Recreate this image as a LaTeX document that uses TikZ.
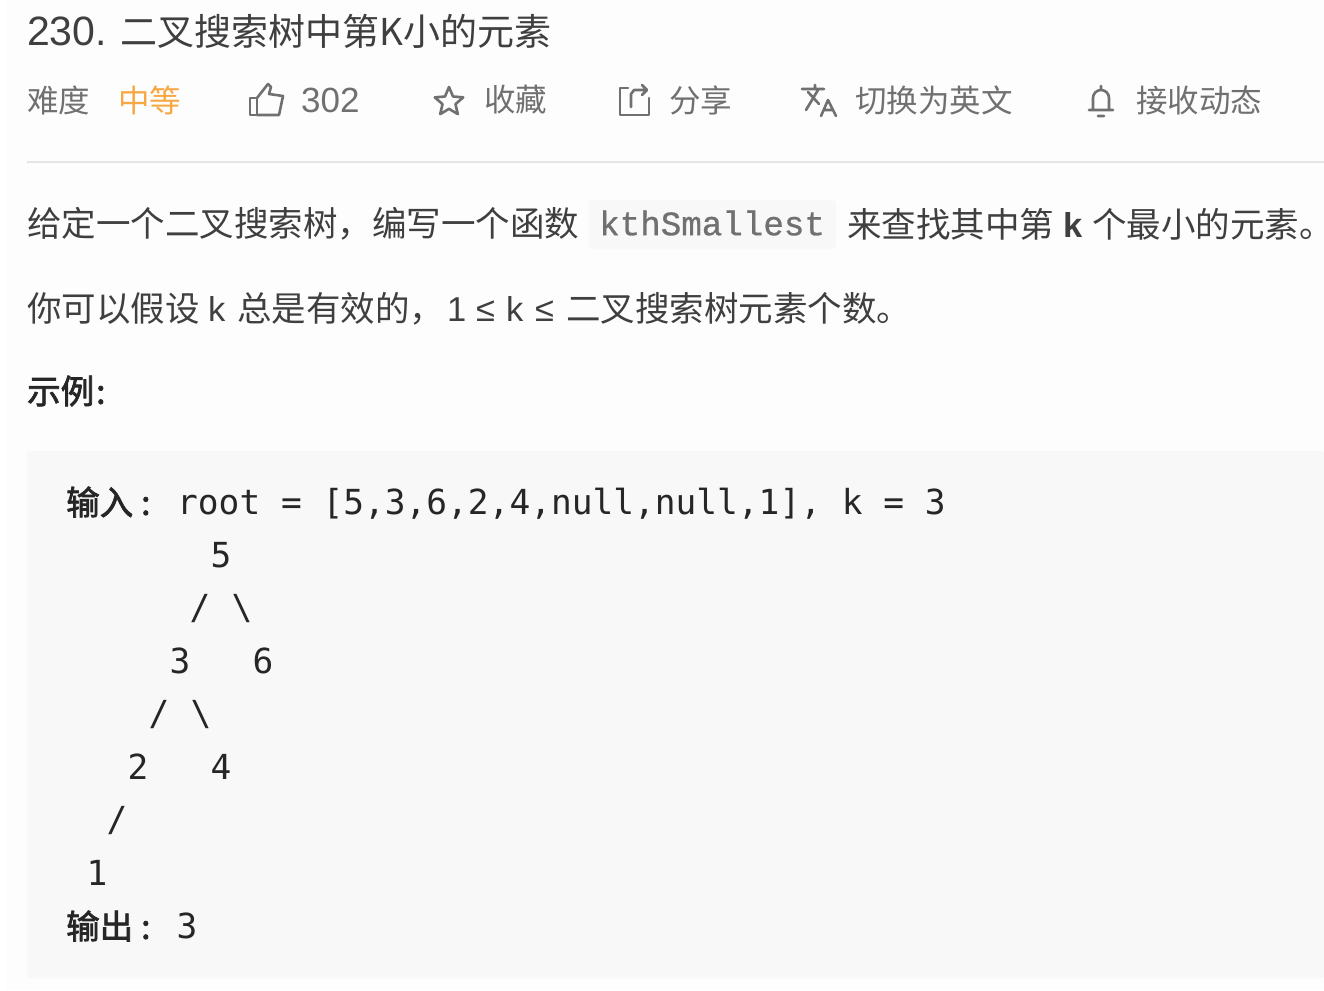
\documentclass[tikz,border=0pt]{standalone}
\usepackage{fontspec}
\usetikzlibrary{shapes.geometric}
\setmainfont{Noto Sans CJK SC}
\setmonofont{DejaVu Sans Mono}
\newfontfamily\lat{Liberation Sans}
\newfontfamily\slab[FakeBold=0.8]{Liberation Mono}
\newfontfamily\med[FakeBold=2.2]{Noto Sans CJK SC}
\newcommand{\seg}[2]{\makebox[#1pt][l]{#2}}
\definecolor{pagebg}{HTML}{FDFDFD}
\definecolor{codebg}{HTML}{F8F8F8}
\definecolor{pillbg}{HTML}{F8F8F8}
\definecolor{ink}{HTML}{3F3F3F}
\definecolor{soft}{HTML}{707070}
\definecolor{accent}{HTML}{F7A845}
\tikzset{x=1pt,y=-1pt,
 txt/.style={anchor=west,inner sep=0pt,text=ink,font=\fontsize{34.5}{34.5}\selectfont},
 title/.style={txt,font=\fontsize{37}{37}\selectfont},
 bar/.style={txt,text=soft,font=\fontsize{31.5}{32}\selectfont},
 code/.style={anchor=center,inner sep=0pt,text=black!85,font=\ttfamily\fontsize{34.5}{34.5}\selectfont},
 strong/.style={anchor=west,inner sep=0pt,text=black!85,font=\med\fontsize{33.5}{33.5}\selectfont},
 icon/.style={draw=soft,line width=2.6pt,line join=round,line cap=round}}
\begin{document}
\begin{tikzpicture}
\useasboundingbox (0,0) rectangle (1324,990);
\fill[white] (0,0) rectangle (1324,990);
\fill[pagebg] (6,0) rectangle (1324,990);
\node[title] (t) at (27,31) {\seg{93}{\lat\fontsize{41}{41}\selectfont 230.}二叉搜索树中第K小的元素};
\node[bar] (a) at (27,100) {难度};
\node[bar,text=accent] (b) at (118,100) {中等};
\draw[icon] (250,98)--(250,115)--(257,115)--(257,98)--cycle;
\draw[icon] (257,98) -- (268,84) -- (271,87) -- (269,94) -- (283,96) -- (279,115) -- (257,115);
\node[bar,font=\lat\fontsize{35}{35}\selectfont] (c) at (301,100) {302};
\node[star,star points=5,star point ratio=2.2,icon,minimum size=30pt,inner sep=0pt] (s) at (449,102) {};
\node[bar] (d) at (484,100) {收藏};
\draw[icon] (628,88) -- (620,88) -- (620,115) -- (649,115) -- (649,98);
\draw[icon] (631,107) -- (631,94) -- (634,90) -- (645,90) (642,85) -- (647,90) -- (642,95);
\node[bar] (e) at (669,100) {分享};
\draw[icon] (802,89) -- (824,89) (815,85) -- (815,89) (808,92) -- (819,104) (818,90) -- (806,110);
\draw[icon] (821,116) -- (828,100) -- (836,116) (824,110) -- (833,110);
\node[bar] (h) at (855,100) {切换为英文};
\draw[icon] (1089,110) -- (1113,110) (1093,110) -- (1093,98) arc[start angle=180,end angle=360,radius=8] -- (1109,110) (1098,116) -- (1104,116) (1101,86) -- (1101,89);
\node[bar] (i) at (1136,100) {接收动态};
\draw[draw=black!10,line width=1.4pt] (27,162) -- (1324,162);
\fill[pillbg,rounded corners=4pt] (589,200) rectangle (836,249);
\node[txt] (p1) at (27,224) {给定一个二叉搜索树，编写一个函数};
\node[anchor=west,inner sep=0pt,text=soft,font=\slab\fontsize{34.2}{34.2}\selectfont] (p2) at (599,223) {kthSmallest};
\node[txt] (p3) at (847,224) {\seg{216}{来查找其中第}\seg{29}{\lat\bfseries k}\seg{230}{个最小的元素。}};
\node[txt] (q) at (27,309) {\seg{181}{你可以假设}\seg{29}{\lat k}\seg{210}{总是有效的，}\seg{29}{\lat 1}\seg{30}{\lat ≤}\seg{29}{\lat k}\seg{31}{\lat ≤}二叉搜索树元素个数。};
\node[strong] (r) at (27,391) {\seg{69}{示例}:};
\fill[codebg,rounded corners=3pt] (27,451) rectangle (1324,978);
\node[strong] (u) at (66,502) {\seg{75}{输入}:};
\node[code,anchor=west] (u2) at (177,504) {root = [5,3,6,2,4,null,null,1], k = 3};
\node[code] (n5) at (221,555) {5};
\node[code] (s1) at (200,609) {/};
\node[code] (s2) at (242,609) {\textbackslash};
\node[code] (n3) at (180,661) {3};
\node[code] (n6) at (263,661) {6};
\node[code] (s3) at (159,715) {/};
\node[code] (s4) at (201,715) {\textbackslash};
\node[code] (n2) at (138,767) {2};
\node[code] (n4) at (221,767) {4};
\node[code] (s5) at (117,821) {/};
\node[code] (n1) at (97,873) {1};
\node[strong] (v) at (66,926) {\seg{75}{输出}:};
\node[code] (v2) at (187,926) {3};
\end{tikzpicture}
\end{document}
